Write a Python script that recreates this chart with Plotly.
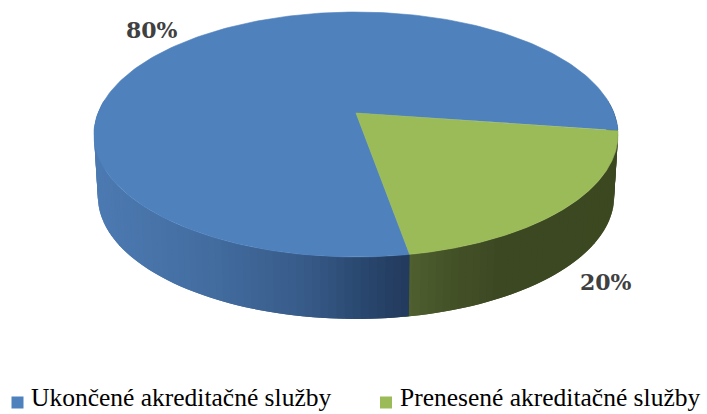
import numpy as np
import plotly.graph_objects as go

categories = ["Ukončené akreditačné služby", "Prenesené akreditačné služby"]
values = [80, 20]
percent_labels = ["80%", "20%"]
top_colors = ["#4f81bd", "#9bbb59"]

W, H = 707, 414
CX, CY = 356, 113
A, B, K = 258.0, 118.7, 0.1755
DEPTH = 62
BOTTOM_SCALE = 0.985
START_DEG = 8.1  # where the second slice starts, clockwise from the right


def project(theta, scale=1.0, dy=0.0):
    u, v = np.cos(theta), np.sin(theta)
    s = 1 / (1 - K * v)
    return CX + scale * A * u * s, CY + dy + B * v * s


def lerp_color(stops, x):
    xs = [p[0] for p in stops]
    cs = np.array([p[1] for p in stops], dtype=float)
    rgb = [np.interp(x, xs, cs[:, i]) for i in range(3)]
    return "rgb(%d,%d,%d)" % tuple(int(round(c)) for c in rgb)


blue_wall = [(90, (76, 122, 178)), (200, (68, 110, 162)), (300, (56, 92, 138)),
             (380, (38, 66, 104)), (410, (34, 58, 92))]
green_wall = [(408, (80, 96, 48)), (450, (68, 82, 40)), (500, (60, 72, 34)),
              (620, (60, 72, 32))]

fig = go.Figure()

# Angular extents derived from the values
total = sum(values)
green_span = 2 * np.pi * values[1] / total
g0 = np.radians(START_DEG)
g1 = g0 + green_span
b0 = g1
b1 = g0 + 2 * np.pi

# Side wall, as narrow vertical strips; each one runs under the next to hide seams
STEP = np.radians(1.5)
edges = np.r_[np.arange(np.radians(-6), g1, STEP), g1,
              np.arange(g1 + STEP, np.radians(187), STEP)]
for i, (a0, a1) in enumerate(zip(edges[:-1], edges[1:])):
    mid = (a0 + a1) / 2
    in_green = g0 <= mid <= g1
    end = a1 + STEP if i + 2 < len(edges) else a1
    arc = np.linspace(a0, end, 4)
    xt, yt = project(arc)
    xb, yb = project(arc[::-1], BOTTOM_SCALE, DEPTH)
    xm = project(mid)[0]
    col = lerp_color(green_wall if in_green else blue_wall, xm)
    fig.add_trace(go.Scatter(
        x=np.r_[xt, xb], y=np.r_[yt, yb], mode="lines", fill="toself",
        fillcolor=col, line=dict(width=0),
        hoverinfo="skip", showlegend=False))

# Top faces
for name, color, a0, a1 in [(categories[0], top_colors[0], b0, b1),
                            (categories[1], top_colors[1], g0, g1)]:
    arc = np.linspace(a0, a1, 240)
    xa, ya = project(arc)
    fig.add_trace(go.Scatter(
        x=np.r_[CX, xa, CX], y=np.r_[CY, ya, CY], mode="lines", fill="toself",
        fillcolor=color, line=dict(color=color, width=0.6),
        name=name, hoverinfo="name", showlegend=False))

# Legend keys
fig.add_trace(go.Scatter(
    x=[17.5, 386], y=[402.5, 402.5], mode="markers",
    marker=dict(symbol="square", size=12, color=top_colors, line=dict(width=0)),
    hoverinfo="skip", showlegend=False))

serif = "Liberation Serif"
annotations = [
    dict(x=152, y=30, text=f"<b>{percent_labels[0]}</b>"),
    dict(x=606, y=282, text=f"<b>{percent_labels[1]}</b>"),
]
annotations = [dict(a, font=dict(family="DejaVu Serif", size=22, color="#404040"),
                    xanchor="center", yanchor="middle", showarrow=False,
                    xref="x", yref="y") for a in annotations]
for x, cat in zip([29, 398], categories):
    annotations.append(dict(x=x, y=397.5, text=cat, xref="x", yref="y",
                            xanchor="left", yanchor="middle", showarrow=False,
                            font=dict(family=serif, size=25.5, color="#000000")))

fig.update_layout(
    width=W, height=H, margin=dict(l=0, r=0, t=0, b=0),
    paper_bgcolor="white", plot_bgcolor="white", showlegend=False,
    xaxis=dict(range=[0, W], visible=False, fixedrange=True),
    yaxis=dict(range=[H, 0], visible=False, fixedrange=True),
    annotations=annotations,
)
fig.write_html("out.html", config=dict(displayModeBar=False),
               post_script="document.body.style.margin='0';document.documentElement.style.overflow='hidden';")
